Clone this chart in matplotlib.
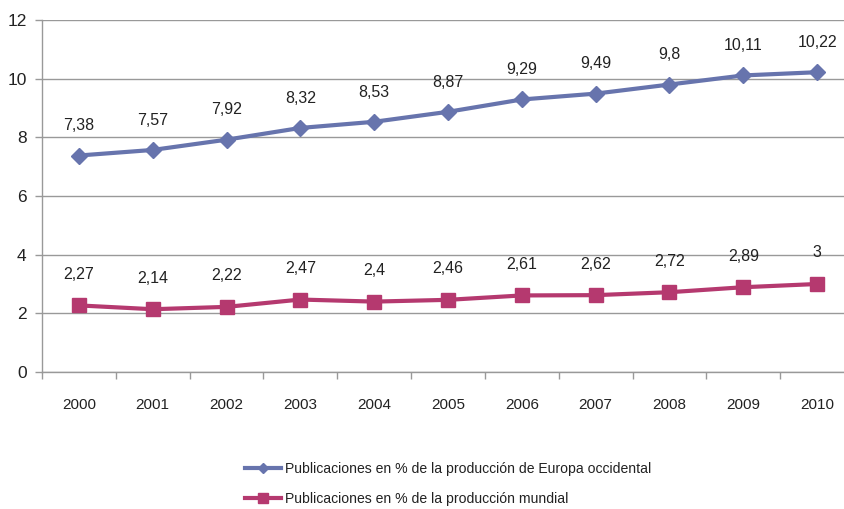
import matplotlib
matplotlib.use("Agg")
import matplotlib.pyplot as plt
import numpy as np

plt.rcParams['font.family'] = ['Liberation Sans', 'DejaVu Sans']

years = ['2000', '2001', '2002', '2003', '2004', '2005', '2006', '2007', '2008', '2009', '2010']
europa = [7.38, 7.57, 7.92, 8.32, 8.53, 8.87, 9.29, 9.49, 9.8, 10.11, 10.22]
mundial = [2.27, 2.14, 2.22, 2.47, 2.4, 2.46, 2.61, 2.62, 2.72, 2.89, 3]
europa_labels = ['7,38', '7,57', '7,92', '8,32', '8,53', '8,87', '9,29', '9,49', '9,8', '10,11', '10,22']
mundial_labels = ['2,27', '2,14', '2,22', '2,47', '2,4', '2,46', '2,61', '2,62', '2,72', '2,89', '3']
yticks = [0, 2, 4, 6, 8, 10, 12]
name_europa = 'Publicaciones en % de la producción de Europa occidental'
name_mundial = 'Publicaciones en % de la producción mundial'

c_eu = '#6774ad'
c_mu = '#b5396f'

fig = plt.figure(figsize=(8.45, 5.09), dpi=100)
ax = fig.add_axes([42/845, 1-372/509, 812/845, 352/509])
x = np.arange(len(years))
ax.plot(x, europa, color=c_eu, lw=3, marker='D', ms=8, label=name_europa, zorder=3, clip_on=False)
ax.plot(x, mundial, color=c_mu, lw=3, marker='s', ms=10, label=name_mundial, zorder=3, clip_on=False)

for xi, v, t in zip(x, europa, europa_labels):
    ax.annotate(t, (xi, v), xytext=(0, 16), textcoords='offset points', ha='center', va='bottom', fontsize=11.5, color='#222222')
for xi, v, t in zip(x, mundial, mundial_labels):
    ax.annotate(t, (xi, v), xytext=(0, 17), textcoords='offset points', ha='center', va='bottom', fontsize=11.5, color='#222222')

ax.set_xlim(-0.5, len(years)-0.5)
ax.set_ylim(0, 12)
ax.set_yticks(yticks)
ax.set_yticklabels([str(v) for v in yticks], fontsize=12.5, color='#222222')
ax.set_xticks(x)
ax.set_xticklabels(years, fontsize=11, color='#222222')
ax.tick_params(axis='x', which='major', length=0, pad=19)
ax.set_xticks(np.arange(-0.5, len(years)), minor=True)
ax.tick_params(axis='x', which='minor', length=5, color='#999999', width=1)
ax.tick_params(axis='y', length=5, color='#999999', width=1, pad=6)
ax.grid(axis='y', color='#999999', lw=1)
ax.set_axisbelow(True)
for s in ['top', 'right']:
    ax.spines[s].set_visible(False)
for s in ['left', 'bottom']:
    ax.spines[s].set_color('#999999')
    ax.spines[s].set_linewidth(1)

leg = fig.legend(loc='upper left', bbox_to_anchor=(232/845, 1-449/509), frameon=False,
                 fontsize=10.1, labelspacing=1.15, handlelength=2.6, handletextpad=0.3, markerscale=0.7)
for t in leg.get_texts():
    t.set_color('#222222')

fig.savefig('out.png', dpi=100)
